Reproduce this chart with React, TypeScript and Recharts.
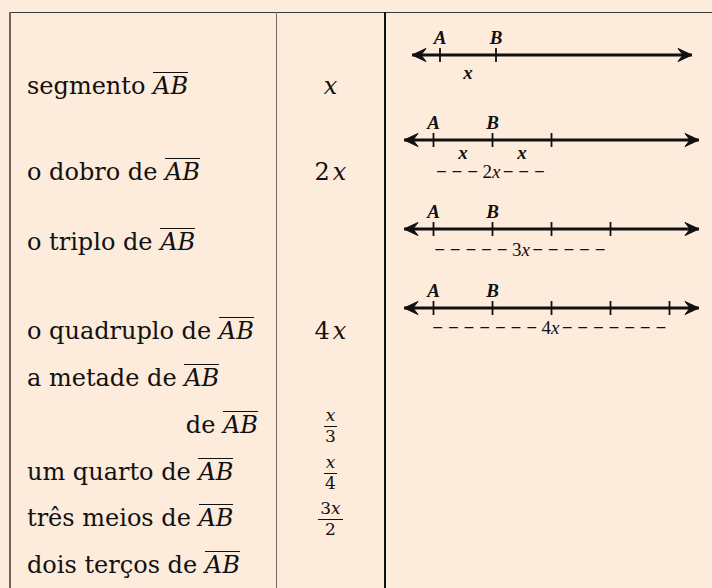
import React from "react";
import { ComposedChart, XAxis, YAxis, Scatter, ReferenceLine } from "recharts";

// table content
const rowLabels = [
  "segmento",
  "o dobro de",
  "o triplo de",
  "o quadruplo de",
  "a metade de",
  "de",
  "um quarto de",
  "três meios de",
  "dois terços de",
];
const rowValues = ["x", "2x", "", "4x", "", "x/3", "x/4", "3x/2", ""];
const segmentName = "AB";

// number lines
const lineTicks = [
  [0, 1],
  [0, 1, 2],
  [0, 1, 2, 3],
  [0, 1, 2, 3, 4],
];
const pointNames = ["A", "B"];
const unitMarks = [[0.5], [0.5, 1.5], [], []];
const unitName = "x";
const spanNames = ["", "2x", "3x", "4x"];
const spanDashes = [0, 3, 5, 7];
const lineDomain = [-0.5, 4.5];

// layout
const rowCenters = [86, 172, 242, 331, 378, 425, 472, 518, 565];
const lineBoxes = [
  { y: 55, left: 412, right: 692, unitDy: 17, spanDy: 0 },
  { y: 140, left: 403.5, right: 698.5, unitDy: 12, spanDy: 31 },
  { y: 229, left: 403.5, right: 698.5, unitDy: 0, spanDy: 20 },
  { y: 308, left: 403.5, right: 698.5, unitDy: 0, spanDy: 19 },
];

const INK = "#111";
const BG = "#fdebdb";
const SERIF = "'DejaVu Serif', serif";
const LABEL_FONT = "'Liberation Serif', serif";
const FONT_SIZE = 24;

const Italic = ({ children }: { children: React.ReactNode }) => (
  <span style={{ fontStyle: "italic" }}>{children}</span>
);

// renders "2x" as 2 + italic x
const mathText = (s: string, gap: number) =>
  s.split("").map((c, i) =>
    c === "x" ? (
      <Italic key={i}>{c}</Italic>
    ) : (
      <span key={i} style={{ marginRight: gap }}>
        {c}
      </span>
    )
  );

const Value = ({ v }: { v: string }) => {
  if (!v) return null;
  if (v.includes("/")) {
    const [num, den] = v.split("/");
    return (
      <span
        style={{
          display: "inline-flex",
          flexDirection: "column",
          alignItems: "center",
          fontSize: 17,
          lineHeight: 1.05,
          verticalAlign: "middle",
        }}
      >
        <span style={{ borderBottom: `1.2px solid ${INK}`, padding: "0 2px 1px" }}>
          {mathText(num, 0)}
        </span>
        <span style={{ paddingTop: 1 }}>{den}</span>
      </span>
    );
  }
  return <span>{mathText(v, 3)}</span>;
};

const Overline = () => (
  <span
    style={{
      display: "inline-block",
      borderTop: `1.5px solid ${INK}`,
      lineHeight: 1,
      paddingTop: 1,
      fontStyle: "italic",
    }}
  >
    {segmentName}
  </span>
);

const TickMark = (p: any) => (
  <line x1={p.cx} x2={p.cx} y1={p.cy - 7} y2={p.cy + 7} stroke={INK} strokeWidth={1.8} />
);

const Arrow = (p: any) => {
  const d = p.payload.dir;
  const { cx, cy } = p;
  return (
    <path
      d={`M${cx},${cy} L${cx - d * 14},${cy - 6.5} L${cx - d * 9},${cy} L${cx - d * 14},${cy + 6.5} Z`}
      fill={INK}
      stroke={INK}
      strokeWidth={1}
      strokeLinejoin="round"
    />
  );
};

const LetterLabel = (p: any) => (
  <text
    x={p.cx}
    y={p.cy}
    textAnchor="middle"
    dominantBaseline="central"
    fontFamily={LABEL_FONT}
    fontStyle="italic"
    fontWeight={600}
    fontSize={19}
    fill={INK}
  >
    {p.payload.text}
  </text>
);

const SpanLabel = (p: any) => {
  const dashes = "−".repeat(p.payload.dashes);
  const name: string = p.payload.text;
  return (
    <text
      x={p.cx}
      y={p.cy}
      textAnchor="middle"
      dominantBaseline="central"
      fontFamily={LABEL_FONT}
      fontSize={19}
      fill={INK}
    >
      <tspan fontFamily={SERIF} fontSize={14} style={{ letterSpacing: 3.9 }}>
        {dashes}
      </tspan>
      <tspan>{name.replace("x", "")}</tspan>
      <tspan fontStyle="italic" style={{ letterSpacing: 2 }}>x</tspan>
      <tspan fontFamily={SERIF} fontSize={14} style={{ letterSpacing: 3.9 }}>
        {dashes}
      </tspan>
    </text>
  );
};

const NumberLine = ({ i }: { i: number }) => {
  const box = lineBoxes[i];
  const pad = 6;
  const H = 80;
  const width = box.right - box.left + 2 * pad;
  const ticks = lineTicks[i].map((x) => ({ x, y: 0 }));
  const names = pointNames.map((text, j) => ({ x: lineTicks[i][j], y: 18, text }));
  const units = unitMarks[i].map((x) => ({ x, y: -box.unitDy, text: unitName }));
  const first = lineTicks[i][0];
  const last = lineTicks[i][lineTicks[i].length - 1];
  const span = spanNames[i]
    ? [{ x: (first + last) / 2, y: -box.spanDy, text: spanNames[i], dashes: spanDashes[i] }]
    : [];
  const arrows = [
    { x: lineDomain[0], y: 0, dir: -1 },
    { x: lineDomain[1], y: 0, dir: 1 },
  ];
  return (
    <div style={{ position: "absolute", left: box.left - pad, top: box.y - H / 2 }}>
      <ComposedChart width={width} height={H} margin={{ top: 0, right: pad, bottom: 0, left: pad }}>
        <XAxis type="number" dataKey="x" domain={lineDomain} hide allowDataOverflow />
        <YAxis type="number" dataKey="y" domain={[-H / 2, H / 2]} hide allowDataOverflow />
        <ReferenceLine
          segment={[
            { x: lineDomain[0], y: 0 },
            { x: lineDomain[1], y: 0 },
          ]}
          stroke={INK}
          strokeWidth={2.8}
        />
        <Scatter data={ticks} shape={TickMark} isAnimationActive={false} />
        <Scatter data={arrows} shape={Arrow} isAnimationActive={false} />
        <Scatter data={names} shape={LetterLabel} isAnimationActive={false} />
        <Scatter data={units} shape={LetterLabel} isAnimationActive={false} />
        <Scatter data={span} shape={SpanLabel} isAnimationActive={false} />
      </ComposedChart>
    </div>
  );
};

const rule = (style: React.CSSProperties) => <div style={{ position: "absolute", ...style }} />;

export default function App() {
  return (
    <div
      style={{
        position: "relative",
        width: 712,
        height: 588,
        background: BG,
        overflow: "hidden",
        fontFamily: SERIF,
        color: INK,
      }}
    >
      <style>{`body{margin:0;background:${BG}}`}</style>
      {rule({ left: 9, top: 11.5, width: 703, height: 1.5, background: "#3a3a3a" })}
      {rule({ left: 9, top: 12, width: 2, height: 580, background: "#6f6661" })}
      {rule({ left: 275.5, top: 12, width: 1.5, height: 580, background: "#6f6a66" })}
      {rule({ left: 384, top: 12, width: 1.5, height: 580, background: "#111" })}

      {rowLabels.map((label, i) => (
        <div
          key={label}
          style={{
            position: "absolute",
            top: rowCenters[i] - 20,
            height: 40,
            lineHeight: "40px",
            fontSize: FONT_SIZE,
            whiteSpace: "nowrap",
            ...(label === "de" ? { right: 712 - 258 } : { left: 27 }),
          }}
        >
          {label} <Overline />
        </div>
      ))}

      {rowValues.map((v, i) => (
        <div
          key={i}
          style={{
            position: "absolute",
            left: 277,
            width: 107,
            top: rowCenters[i] - 20,
            height: 40,
            lineHeight: "40px",
            fontSize: FONT_SIZE,
            textAlign: "center",
          }}
        >
          <Value v={v} />
        </div>
      ))}

      {lineTicks.map((_, i) => (
        <NumberLine key={i} i={i} />
      ))}
    </div>
  );
}
